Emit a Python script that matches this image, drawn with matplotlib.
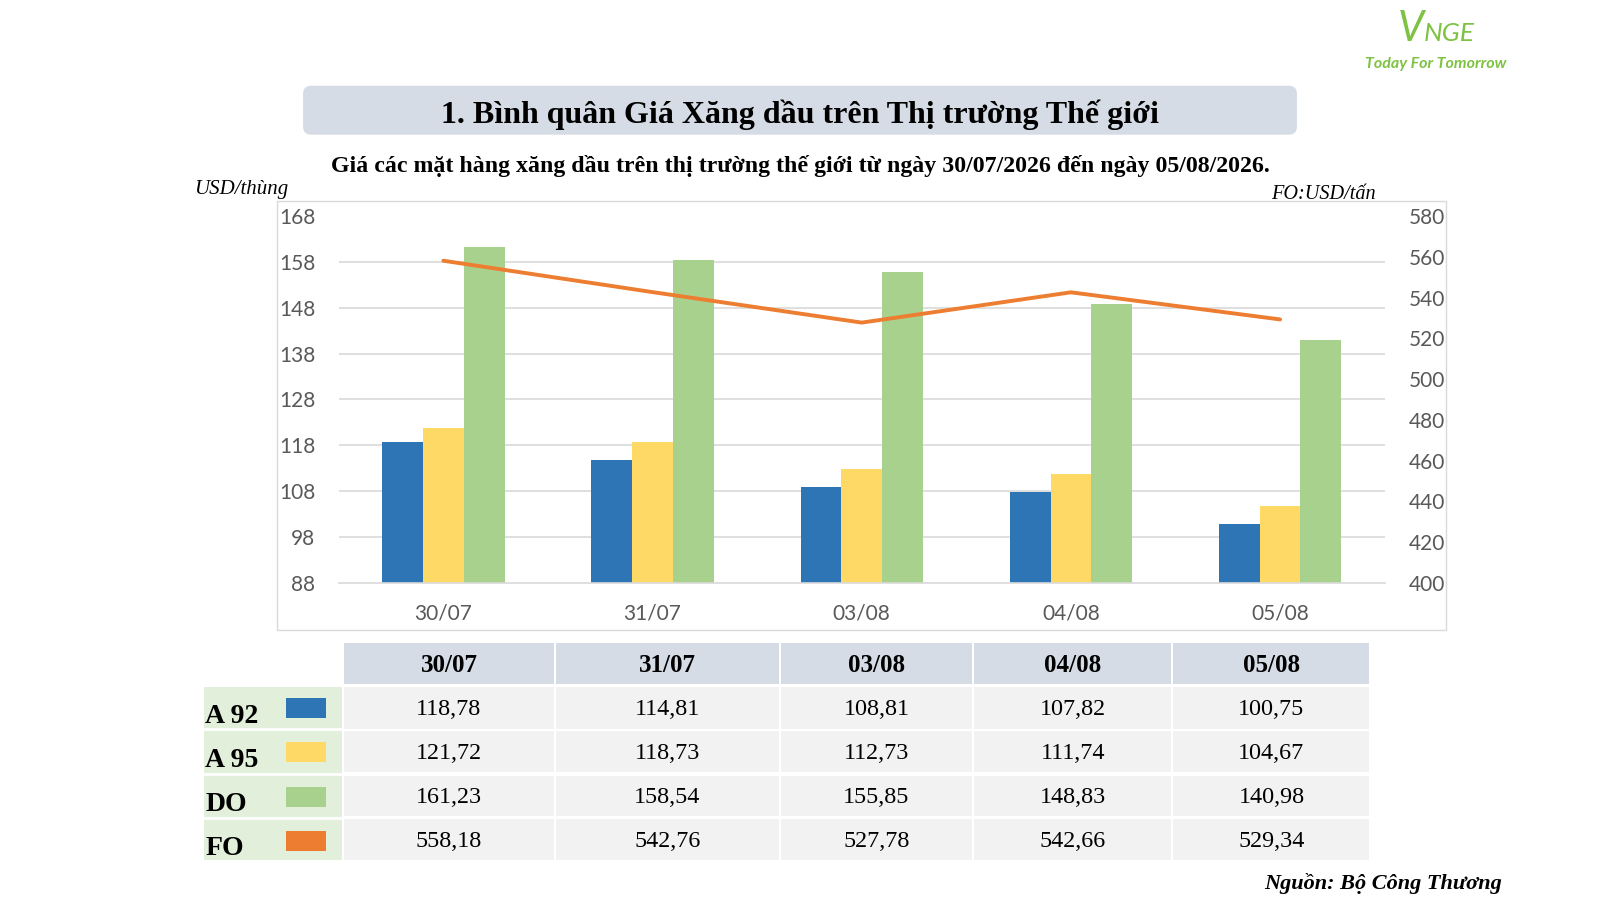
import matplotlib
matplotlib.use("Agg")
import matplotlib.pyplot as plt
import numpy as np
from matplotlib.patches import FancyBboxPatch, Rectangle

dates = ["30/07", "31/07", "03/08", "04/08", "05/08"]
a92 = [118.78, 114.81, 108.81, 107.82, 100.75]
a95 = [121.72, 118.73, 112.73, 111.74, 104.67]
do = [161.23, 158.54, 155.85, 148.83, 140.98]
fo = [558.18, 542.76, 527.78, 542.66, 529.34]
series_names = ["A 92", "A 95", "DO", "FO"]
left_ticks = [88, 98, 108, 118, 128, 138, 148, 158, 168]
right_ticks = [400, 420, 440, 460, 480, 500, 520, 540, 560, 580]

C_BLUE = "#2E75B6"
C_YELLOW = "#FFD966"
C_GREEN = "#A9D18E"
C_ORANGE = "#ED7D31"
colors = [C_BLUE, C_YELLOW, C_GREEN, C_ORANGE]
SERIF = ["Liberation Serif", "DejaVu Serif"]
SANS = ["Lato", "DejaVu Sans"]
TICK_COL = "#595959"
GRID_COL = "#D9D9D9"
LOGO_COL = "#7DC242"

# layout grid measured on a 1568x882 view of the page
W, H = 1568, 882
fig = plt.figure(figsize=(16, 9), dpi=100)

ov = fig.add_axes([0, 0, 1, 1], zorder=0)
ov.set_xlim(0, W)
ov.set_ylim(H, 0)
ov.axis("off")


def fx(px):
    return px / W


def fy(py):
    return 1 - py / H


# logo
ov.text(1370, 40, "V", color=LOGO_COL, fontsize=30, style="italic",
        family=SANS, ha="left", va="baseline")
ov.text(1395, 40, "NGE", color=LOGO_COL, fontsize=19, style="italic",
        family=SANS, ha="left", va="baseline")
ov.text(1407, 63, "Today For Tomorrow", color=LOGO_COL, fontsize=11.5,
        style="italic", weight="bold", family=SANS, ha="center", va="center")

# title box
ov.add_patch(FancyBboxPatch((297, 84), 974, 48,
                            boxstyle="round,pad=0,rounding_size=8",
                            fc="#D6DCE5", ec="none"))
ov.text(784, 112, "1. Bình quân Giá Xăng dầu trên Thị trường Thế giới",
        family=SERIF, weight="bold", fontsize=23, ha="center", va="center")
ov.text(784, 163,
        "Giá các mặt hàng xăng dầu trên thị trường thế giới từ ngày "
        "30/07/2026 đến ngày 05/08/2026.",
        family=SERIF, weight="bold", fontsize=17.2, ha="center", va="center")
ov.text(190, 186, "USD/thùng", family=SERIF, style="italic", fontsize=15,
        ha="left", va="center")
ov.text(1348, 191, "FO:USD/tấn", family=SERIF, style="italic", fontsize=14.6,
        ha="right", va="center")

# chart frame
ov.add_patch(Rectangle((271, 197), 1146, 420, fc="white", ec=GRID_COL, lw=1))

# main chart
left, right, top, bottom = 332, 1357, 212, 571
ax = fig.add_axes([fx(left), fy(bottom), fx(right - left), (bottom - top) / H],
                  zorder=1)
ax.set_facecolor("none")
x = np.arange(len(dates))
bw = 0.195
for i, (vals, col) in enumerate(zip([a92, a95, do], colors[:3])):
    ax.bar(x + (i - 1) * bw, np.array(vals) - left_ticks[0], bw,
           bottom=left_ticks[0], color=col, zorder=2)
ax.set_xlim(-0.5, len(dates) - 0.5)
ax.set_ylim(left_ticks[0], left_ticks[-1])
ax.set_yticks(left_ticks)
ax.set_xticks(x)
ax.set_xticklabels(dates)
for t in left_ticks[1:-1]:
    ax.axhline(t, color=GRID_COL, lw=1.2, zorder=0)
for s in ["top", "left", "right"]:
    ax.spines[s].set_visible(False)
ax.spines["bottom"].set_color(GRID_COL)
ax.spines["bottom"].set_linewidth(1.2)
ax.tick_params(length=0, labelcolor=TICK_COL, labelsize=15)
ax.tick_params(axis="y", pad=17)
ax.tick_params(axis="x", pad=15)
for lab in ax.get_xticklabels() + ax.get_yticklabels():
    lab.set_family(SANS)

ax2 = ax.twinx()
ax2.plot(x, fo, color=C_ORANGE, lw=2.8, solid_capstyle="round", zorder=3)
ax2.set_ylim(right_ticks[0], right_ticks[-1])
ax2.set_yticks(right_ticks)
for s in ax2.spines.values():
    s.set_visible(False)
ax2.tick_params(length=0, labelcolor=TICK_COL, labelsize=15, pad=17)
for lab in ax2.get_yticklabels():
    lab.set_family(SANS)

# table
col_edges = [337, 545, 765, 955, 1150, 1344]
row_edges = [(673, 714), (716, 757), (760, 800), (803, 843)]
gap = 2
for j, d in enumerate(dates):
    x0, x1 = col_edges[j], col_edges[j + 1] - gap
    ov.add_patch(Rectangle((x0, 630), x1 - x0, 40, fc="#D6DCE5", ec="none"))
    ov.text((x0 + x1) / 2, 652, d, family=SERIF, weight="bold", fontsize=18,
            ha="center", va="center")

ov.add_patch(Rectangle((200, 673), 135, 170, fc="#E2EFDA", ec="none"))
table_vals = [a92, a95, do, fo]
for r, (name, vals, col) in enumerate(zip(series_names, table_vals, colors)):
    y0, y1 = row_edges[r]
    if r > 0:
        ov.plot([200, 335], [y0 - 1.5, y0 - 1.5], color="white", lw=2)
    ov.text(201, y1 - 5, name, family=SERIF, weight="bold", fontsize=20,
            ha="left", va="baseline")
    ov.add_patch(Rectangle((280, y0 + 11), 39, 20, fc=col, ec="none"))
    for j, v in enumerate(vals):
        x0, x1 = col_edges[j], col_edges[j + 1] - gap
        ov.add_patch(Rectangle((x0, y0), x1 - x0, y1 - y0, fc="#F2F2F2",
                               ec="none"))
        ov.text((x0 + x1) / 2, (y0 + y1) / 2 + 2, f"{v:.2f}".replace(".", ","),
                family=SERIF, fontsize=17.4, ha="center", va="center")

ov.text(1472, 866, "Nguồn: Bộ Công Thương", family=SERIF, weight="bold",
        style="italic", fontsize=16, ha="right", va="center")

fig.savefig("out.png", dpi=100, facecolor="white")
